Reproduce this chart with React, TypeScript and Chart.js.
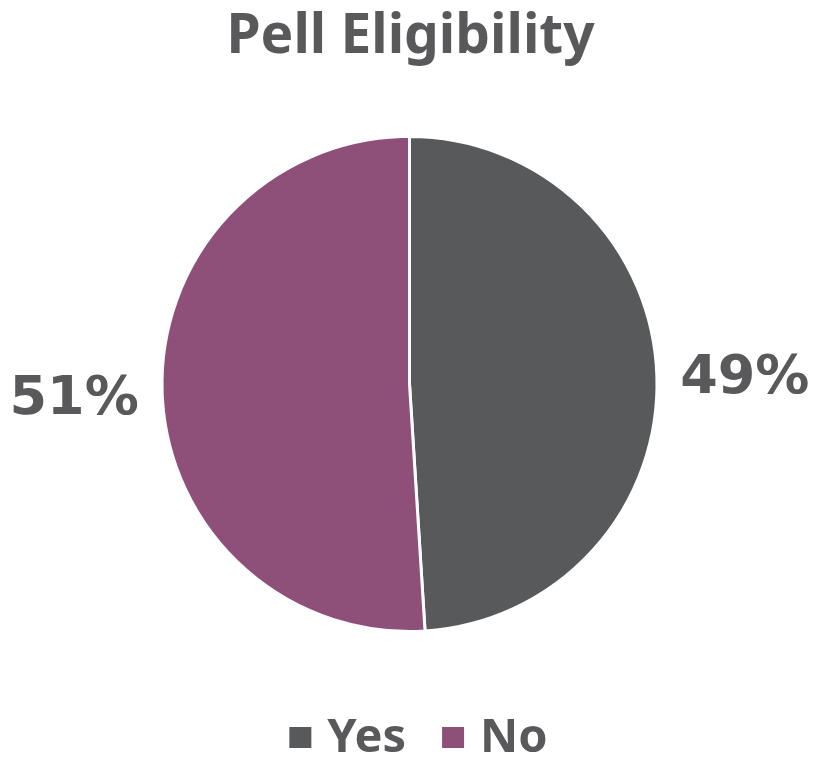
import React, { useEffect, useRef } from "react";
import { Chart, registerables } from "chart.js";

Chart.register(...registerables);

const TITLE = "Pell Eligibility";
const categories = ["Yes", "No"];
const values = [49, 51];
const sliceColors = ["#58595B", "#8E5079"];
const TEXT_COLOR = "#59595B";

const overlayPlugin = {
  id: "overlay",
  afterDraw(chart: any) {
    const ctx = chart.ctx as CanvasRenderingContext2D;
    const W = chart.width;
    ctx.save();
    ctx.fillStyle = TEXT_COLOR;
    // title
    ctx.font = "bold 55px 'Noto Sans', sans-serif";
    ctx.textAlign = "center";
    ctx.textBaseline = "alphabetic";
    ctx.fillText(TITLE, W / 2, 53);

    // labels
    const meta = chart.getDatasetMeta(0);
    const total = values.reduce((a, b) => a + b, 0);
    ctx.font = "bold 54px 'DejaVu Sans', sans-serif";
    meta.data.forEach((arc: any, i: number) => {
      const mid = (arc.startAngle + arc.endAngle) / 2;
      const r = arc.outerRadius + 88;
      const x = arc.x + Math.cos(mid) * r;
      const y = arc.y + Math.sin(mid) * r;
      const pct = Math.round((values[i] / total) * 100) + "%";
      ctx.textAlign = "center";
      ctx.fillText(pct, x, y + 19.5);
    });

    // legend
    ctx.font = "bold 47px 'Noto Sans', sans-serif";
    ctx.textAlign = "left";
    const box = 22;
    const gap = 16;
    const itemGap = 36;
    const widths = categories.map((c) => ctx.measureText(c).width);
    let totalW = 0;
    widths.forEach((w, i) => {
      totalW += box + gap + w + (i < widths.length - 1 ? itemGap : 0);
    });
    let x = W / 2 + 8 - totalW / 2;
    const baseY = 752;
    categories.forEach((c, i) => {
      ctx.fillStyle = sliceColors[i];
      ctx.fillRect(x, 727, box, 21);
      x += box + gap;
      ctx.fillStyle = TEXT_COLOR;
      ctx.fillText(c, x, baseY);
      x += widths[i] + itemGap;
    });
    ctx.restore();
  },
};

export default function App() {
  const ref = useRef<HTMLCanvasElement | null>(null);
  useEffect(() => {
    document.body.style.margin = "0";
    if (!ref.current) return;
    const chart = new Chart(ref.current, {
      type: "pie",
      data: {
        labels: categories,
        datasets: [
          {
            data: values,
            backgroundColor: sliceColors,
            borderColor: "#ffffff",
            borderWidth: 3,
          },
        ],
      },
      options: {
        responsive: false,
        animation: false,
        layout: { padding: { top: 135, bottom: 125, left: 0, right: 2 } },
        plugins: {
          legend: { display: false },
          title: { display: false },
          tooltip: { enabled: false },
        },
      },
      plugins: [overlayPlugin],
    });
    return () => chart.destroy();
  }, []);
  return (
    <div style={{ width: 821, height: 758, background: "#fff" }}>
      <canvas ref={ref} width={821} height={758} style={{ display: "block" }} />
    </div>
  );
}
